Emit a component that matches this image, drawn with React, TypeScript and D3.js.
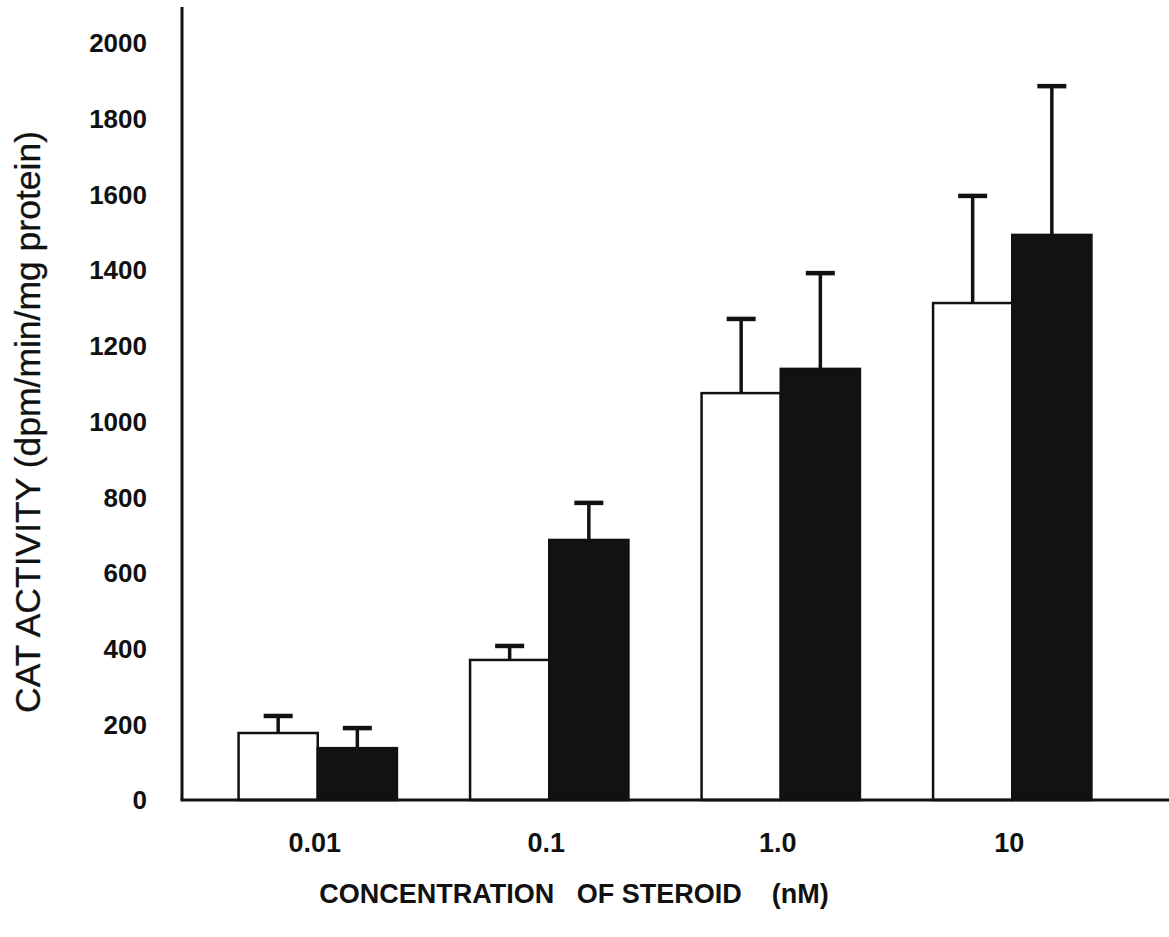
import React from "react";
import * as d3 from "d3";

const categories = ["0.01", "0.1", "1.0", "10"];
const seriesNames = ["open", "filled"];
const openValues = [177, 370, 1075, 1313];
const openErrTop = [222, 407, 1271, 1596];
const filledValues = [137, 687, 1139, 1493];
const filledErrTop = [190, 785, 1392, 1886];
const yTicks = [0, 200, 400, 600, 800, 1000, 1200, 1400, 1600, 1800, 2000];

const W = 1169;
const H = 937;

export default function App() {
  const y = d3.scaleLinear().domain([0, 2000]).range([800, 43]);
  const x = d3
    .scaleBand<string>()
    .domain(categories)
    .range([202, 1128])
    .paddingInner(0.316)
    .paddingOuter(0.158);
  const inner = d3.scaleBand<string>().domain(seriesNames).range([0, x.bandwidth()]);
  const bw = inner.bandwidth();
  const font = "'Liberation Sans', Arial, Helvetica, sans-serif";

  const series = [
    { name: "open", values: openValues, err: openErrTop, fill: "#ffffff" },
    { name: "filled", values: filledValues, err: filledErrTop, fill: "#121212" },
  ];

  return (
    <svg
      width={W}
      height={H}
      style={{ position: "absolute", left: 0, top: 0, background: "#fff" }}
    >
      {series.map((s) =>
        categories.map((c, i) => {
          const cx = (x(c) ?? 0) + (inner(s.name) ?? 0) + bw / 2;
          return (
            <g key={s.name + c + "e"}>
              <line
                x1={cx}
                x2={cx}
                y1={y(s.values[i])}
                y2={y(s.err[i])}
                stroke="#111"
                strokeWidth={3.5}
              />
              <line
                x1={cx - 14.5}
                x2={cx + 14.5}
                y1={y(s.err[i])}
                y2={y(s.err[i])}
                stroke="#111"
                strokeWidth={4.5}
              />
            </g>
          );
        })
      )}
      {series.map((s) =>
        categories.map((c, i) => (
          <rect
            key={s.name + c}
            x={(x(c) ?? 0) + (inner(s.name) ?? 0)}
            y={y(s.values[i])}
            width={bw}
            height={y(0) - y(s.values[i])}
            fill={s.fill}
            stroke="#111"
            strokeWidth={2.5}
          />
        ))
      )}
      <line x1={182} x2={182} y1={7} y2={y(0)} stroke="#111" strokeWidth={3} />
      <line x1={180.5} x2={1169} y1={y(0)} y2={y(0)} stroke="#111" strokeWidth={3} />
      {yTicks.map((t) => (
        <text
          key={t}
          x={147}
          y={y(t)}
          dy="0.36em"
          textAnchor="end"
          fontFamily={font}
          fontWeight="bold"
          fontSize={26}
          fill="#111"
        >
          {t}
        </text>
      ))}
      {categories.map((c) => (
        <text
          key={c}
          x={(x(c) ?? 0) + x.bandwidth() / 2 - 3}
          y={842}
          dy="0.36em"
          textAnchor="middle"
          fontFamily={font}
          fontWeight="bold"
          fontSize={27}
          fill="#111"
        >
          {c}
        </text>
      ))}
      <text
        x={574}
        y={893}
        dy="0.36em"
        textAnchor="middle"
        fontFamily={font}
        fontWeight="bold"
        fontSize={27}
        fill="#111"
        style={{ whiteSpace: "pre" }}
        xmlSpace="preserve"
      >
        {"CONCENTRATION   OF STEROID    (nM)"}
      </text>
      <text
        transform={`translate(27, 422) rotate(-90)`}
        dy="0.36em"
        textAnchor="middle"
        fontFamily={font}
        fontSize={35.5}
        fill="#111"
        stroke="#111"
        strokeWidth={0.3}
      >
        CAT ACTIVITY (dpm/min/mg protein)
      </text>
    </svg>
  );
}
